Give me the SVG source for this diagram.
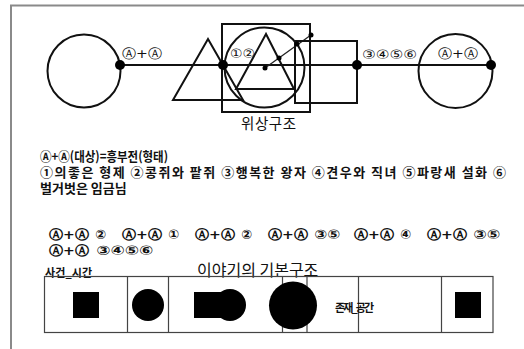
<svg xmlns="http://www.w3.org/2000/svg" width="524" height="349" viewBox="0 0 524 349">
<style>
.ln{stroke:#111;stroke-width:2;fill:none}
.thin{stroke:#222;stroke-width:1.3;fill:none}
.dot{fill:#000}
.t{font-family:"Noto Sans CJK KR","Noto Sans",sans-serif;fill:#111;dominant-baseline:central}
.c{font-family:"DejaVu Sans",sans-serif;fill:#111;dominant-baseline:central}
.b{font-weight:bold}
.cell{stroke:#444;stroke-width:1.2;fill:none}
</style>
<rect width="524" height="349" fill="#fff"/>
<path d="M11,349 V5.5 H524" stroke="#8a8a8a" stroke-width="2" fill="none"/>
<g id="connectors">
<line class="ln" x1="120" y1="65" x2="491" y2="65"/>
<line class="thin" x1="265" y1="68" x2="311" y2="35"/>
</g>
<g id="left-circle"><circle class="ln" cx="84" cy="71" r="36.5"/><circle class="dot" cx="120" cy="65" r="5"/></g>
<g id="left-triangle"><polygon class="ln" points="208,39 173,100 243,100"/></g>
<g id="square"><rect class="ln" x="222" y="24" width="88" height="88"/></g>
<g id="middle-circle"><circle class="ln" cx="264.5" cy="67.5" r="40"/></g>
<g id="inner-triangle"><polygon class="ln" points="266,34 236,89 294,89"/></g>
<g id="right-rect"><rect class="ln" x="295" y="41" width="62" height="62"/></g>
<g id="dots">
<circle class="dot" cx="223" cy="65" r="5"/>
<circle class="dot" cx="357" cy="65" r="5"/>
<circle class="dot" cx="265" cy="68" r="2.5"/>
<circle class="dot" cx="279" cy="58" r="2.5"/>
<circle class="dot" cx="297" cy="44" r="2.5"/>
<circle class="dot" cx="311" cy="35" r="2.5"/>
</g>
<g id="right-circle"><circle class="ln" cx="455.5" cy="71" r="37"/><circle class="dot" cx="491" cy="65" r="5"/></g>
<g id="labels">
<text class="c" x="122" y="53" font-size="13" textLength="40" lengthAdjust="spacingAndGlyphs">Ⓐ+Ⓐ</text>
<text class="c" x="230" y="53" font-size="13" textLength="25" lengthAdjust="spacingAndGlyphs">①②</text>
<text class="c" x="362" y="54" font-size="13" textLength="55" lengthAdjust="spacingAndGlyphs">③④⑤⑥</text>
<text class="c" x="438" y="53" font-size="13" textLength="40" lengthAdjust="spacingAndGlyphs">Ⓐ+Ⓐ</text>
<text class="t" x="241" y="122" font-size="14.5" textLength="55">위상구조</text>
</g>
<g id="text-block">
<text class="t b" x="40" y="155" font-size="13" textLength="128" lengthAdjust="spacingAndGlyphs">Ⓐ+Ⓐ(대상)=흥부전(형태)</text>
<text class="t b" x="40" y="171" font-size="13" textLength="466">①의좋은 형제 ②콩쥐와 팥쥐 ③행복한 왕자 ④견우와 직녀 ⑤파랑새 설화 ⑥</text>
<text class="t b" x="40" y="187" font-size="13">벌거벗은 임금님</text>
</g>
<g id="sequence" font-size="13">
<text class="c b" x="49" y="234" textLength="40" lengthAdjust="spacingAndGlyphs">Ⓐ+Ⓐ</text>
<text class="c b" x="95" y="234">②</text>
<text class="c b" x="122" y="234" textLength="40" lengthAdjust="spacingAndGlyphs">Ⓐ+Ⓐ</text>
<text class="c b" x="168" y="234">①</text>
<text class="c b" x="195" y="234" textLength="40" lengthAdjust="spacingAndGlyphs">Ⓐ+Ⓐ</text>
<text class="c b" x="241" y="234">②</text>
<text class="c b" x="268" y="234" textLength="40" lengthAdjust="spacingAndGlyphs">Ⓐ+Ⓐ</text>
<text class="c b" x="314" y="234" textLength="26" lengthAdjust="spacingAndGlyphs">③⑤</text>
<text class="c b" x="354" y="234" textLength="40" lengthAdjust="spacingAndGlyphs">Ⓐ+Ⓐ</text>
<text class="c b" x="400" y="234">④</text>
<text class="c b" x="427" y="234" textLength="40" lengthAdjust="spacingAndGlyphs">Ⓐ+Ⓐ</text>
<text class="c b" x="473" y="234" textLength="27" lengthAdjust="spacingAndGlyphs">③⑤</text>
<text class="c b" x="49" y="250" textLength="40" lengthAdjust="spacingAndGlyphs">Ⓐ+Ⓐ</text>
<text class="c b" x="96" y="250" textLength="57" lengthAdjust="spacingAndGlyphs">③④⑤⑥</text>
</g>
<g id="table">
<text class="t b" x="45" y="271.5" font-size="11" textLength="47">사건_시간</text>
<text class="t" x="197" y="268.5" font-size="16">이야기의 기본구조</text>
<rect class="cell" x="44.5" y="276.5" width="448.5" height="56" stroke="#333"/>
<line class="cell" x1="127.5" y1="276.5" x2="127.5" y2="332.5"/>
<line class="cell" x1="168.5" y1="276.5" x2="168.5" y2="332.5"/>
<line class="cell" x1="282.5" y1="276.5" x2="282.5" y2="332.5" stroke="#777"/>
<line class="cell" x1="307" y1="276.5" x2="307" y2="332.5" stroke="#777"/>
<line class="cell" x1="358.5" y1="276.5" x2="358.5" y2="332.5" stroke="#777"/>
<line class="cell" x1="441.5" y1="276.5" x2="441.5" y2="332.5"/>
<rect class="dot" x="73" y="292" width="26" height="26"/>
<circle class="dot" cx="148" cy="305" r="16"/>
<rect class="dot" x="194" y="292" width="36" height="26"/>
<circle class="dot" cx="230" cy="305" r="16"/>
<circle class="dot" cx="293" cy="305.5" r="24"/>
<text class="t b" x="335" y="306.5" font-size="11" textLength="39">존재_공간</text>
<rect class="dot" x="455" y="292" width="26" height="26"/>
</g>
</svg>
